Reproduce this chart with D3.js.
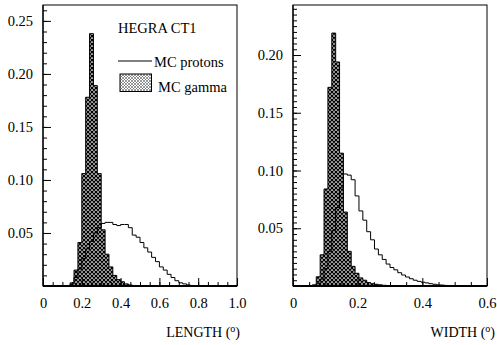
<!DOCTYPE html>
<html><head><meta charset="utf-8">
<script src="https://cdn.jsdelivr.net/npm/d3@7"></script>
<style>
body{margin:0;background:#fff}
svg{display:block}
text{font-family:"Liberation Serif","Times New Roman",Tinos,"DejaVu Serif",serif;fill:#000}
</style>
</head><body>
<svg id="c" width="497" height="345"></svg>
<script>
// ---- data ----
const lengthBins = [0.12,0.14,0.16,0.18,0.20,0.22,0.24,0.26,0.28,0.30,0.32,0.34,0.36,0.38,0.40,0.42,0.44,0.46,0.48,0.50,0.52,0.54,0.56,0.58,0.60,0.62,0.64,0.66,0.68,0.70,0.72,0.74,0.76,0.78];
const lengthGamma = [0,0.002,0.015,0.041,0.106,0.178,0.238,0.189,0.106,0.053,0.030,0.018,0.010,0.006,0.004,0.002,0.001,0.0005,0,0,0,0,0,0,0,0,0,0,0,0,0,0,0,0];
const lengthProtons = [0.0005,0.003,0.008,0.016,0.026,0.035,0.042,0.050,0.055,0.059,0.060,0.060,0.058,0.057,0.058,0.058,0.055,0.048,0.046,0.041,0.036,0.032,0.027,0.023,0.018,0.015,0.011,0.008,0.005,0.003,0.002,0.001,0.0005,0];
const lengthBinWidth = 0.02;

const widthBins = [0.048,0.060,0.072,0.084,0.096,0.108,0.120,0.132,0.144,0.156,0.168,0.180,0.192,0.204,0.216,0.228,0.240,0.252,0.264,0.276,0.288,0.300,0.312,0.324,0.336,0.348,0.360,0.372,0.384,0.396,0.408,0.420,0.432,0.444,0.456,0.468,0.480,0.492,0.504];
const widthGamma = [0,0.001,0.008,0.027,0.084,0.172,0.219,0.194,0.115,0.064,0.030,0.017,0.011,0.007,0.005,0.003,0.002,0.0015,0.001,0.0006,0.0003,0,0,0,0,0,0,0,0,0,0,0,0,0,0,0,0,0,0];
const widthProtons = [0,0.0005,0.002,0.006,0.015,0.030,0.048,0.068,0.085,0.097,0.096,0.092,0.078,0.065,0.057,0.047,0.040,0.032,0.027,0.023,0.019,0.016,0.014,0.0115,0.0095,0.0078,0.0063,0.005,0.004,0.0033,0.0027,0.002,0.0015,0.001,0.0008,0.0005,0.0003,0.0002,0];
const widthBinWidth = 0.012;

const lengthXTicks = [0,0.2,0.4,0.6,0.8,1.0];
const widthXTicks = [0,0.2,0.4,0.6];
const lengthYTicks = [0.05,0.10,0.15,0.20,0.25];
const widthYTicks = [0.05,0.10,0.15,0.20];
const legendTitle = "HEGRA CT1";
const seriesNames = ["MC protons","MC gamma"];

const FONT = '"Liberation Serif","Times New Roman",Tinos,"DejaVu Serif",serif';

// ---- drawing ----
const svg = d3.select("#c");
const defs = svg.append("defs");
const hp = defs.append("pattern").attr("id","hatch").attr("patternUnits","userSpaceOnUse")
  .attr("width",4).attr("height",4);
hp.append("path").attr("d","M0,0L4,4M4,0L0,4M-1,1L1,-1M3,5L5,3M-1,3L1,5M3,-1L5,1")
  .attr("stroke","#000").attr("stroke-width",1.35);
const lp = defs.append("pattern").attr("id","hatchLeg").attr("patternUnits","userSpaceOnUse")
  .attr("width",3).attr("height",3);
lp.append("path").attr("d","M0,0L3,3M3,0L0,3").attr("stroke","#555").attr("stroke-width",0.6);

function panel(cfg){
  const x = d3.scaleLinear().domain(cfg.xDomain).range([cfg.x0,cfg.x1]);
  const y = d3.scaleLinear().domain(cfg.yDomain).range([cfg.y1,cfg.y0]);
  const g = svg.append("g");

  function stepPts(bins, vals, bw){
    const pts = [[bins[0],0]];
    bins.forEach((b,i)=>{ pts.push([b,vals[i]]); pts.push([b+bw,vals[i]]); });
    pts.push([bins[bins.length-1]+bw,0]);
    return pts;
  }
  const line = d3.line().x(d=>x(d[0])).y(d=>y(d[1]));

  g.append("path").attr("d", line(stepPts(cfg.bins,cfg.gamma,cfg.bw)))
    .attr("fill","url(#hatch)").attr("stroke","#000").attr("stroke-width",1);
  g.append("path").attr("d", line(stepPts(cfg.bins,cfg.protons,cfg.bw)))
    .attr("fill","none").attr("stroke","#000").attr("stroke-width",1);

  // frame
  g.append("rect").attr("x",cfg.x0).attr("y",cfg.y0).attr("width",cfg.x1-cfg.x0).attr("height",cfg.y1-cfg.y0)
    .attr("fill","none").attr("stroke","#000").attr("stroke-width",1);

  // minor ticks
  const ym = g.append("g").attr("transform",`translate(${cfg.x0},0)`)
    .call(d3.axisLeft(y).tickValues(cfg.yMinor).tickSizeInner(-4).tickSizeOuter(0).tickFormat(""));
  ym.select(".domain").remove();
  const xm = g.append("g").attr("transform",`translate(0,${cfg.y1})`)
    .call(d3.axisBottom(x).tickValues(cfg.xMinor).tickSizeInner(-4).tickSizeOuter(0).tickFormat(""));
  xm.select(".domain").remove();

  // major ticks + labels
  const ya = g.append("g").attr("transform",`translate(${cfg.x0},0)`)
    .call(d3.axisLeft(y).tickValues(cfg.yTicks).tickSizeInner(-8).tickSizeOuter(0).tickPadding(10)
      .tickFormat(d3.format(".2f")));
  ya.select(".domain").remove();
  const xa = g.append("g").attr("transform",`translate(0,${cfg.y1})`)
    .call(d3.axisBottom(x).tickValues(cfg.xTicks).tickSizeInner(-8).tickSizeOuter(0).tickPadding(12)
      .tickFormat(d=> d===0 ? "0" : d3.format(".1f")(d)));
  xa.select(".domain").remove();
  [ym,xm,ya,xa].forEach(a=>{
    a.attr("font-family",FONT).attr("font-size",14);
    a.selectAll("text").attr("font-family",FONT).style("font-family",FONT).style("font-size","14.5px").attr("fill","#000");
    a.selectAll("line").attr("stroke","#000").attr("stroke-width",1);
  });

  // axis lines
  g.append("line").attr("x1",cfg.x0).attr("x2",cfg.x0).attr("y1",cfg.y0).attr("y2",cfg.y1)
    .attr("stroke","#000").attr("stroke-width",1.2);
  g.append("line").attr("x1",cfg.x0).attr("x2",cfg.x1).attr("y1",cfg.y1).attr("y2",cfg.y1)
    .attr("stroke","#000").attr("stroke-width",2);

  // axis title
  const t = svg.append("text").attr("x",cfg.titleX).attr("y",337).attr("text-anchor","end")
    .style("font-family",FONT).style("font-size","14px");
  t.append("tspan").text(cfg.title + " (");
  t.append("tspan").attr("dy",-5).style("font-size","10px").text("o");
  t.append("tspan").attr("dy",5).text(")");
  return {x,y};
}

panel({x0:43,x1:237,y0:5,y1:286,xDomain:[0,1],yDomain:[0,0.265],
  bins:lengthBins,gamma:lengthGamma,protons:lengthProtons,bw:lengthBinWidth,
  xTicks:lengthXTicks,yTicks:lengthYTicks,
  xMinor:d3.range(0.05,1.0,0.05),yMinor:d3.range(0.01,0.265,0.01),
  title:"LENGTH",titleX:240});
panel({x0:293,x1:487,y0:5,y1:286,xDomain:[0,0.6],yDomain:[0,0.2433],
  bins:widthBins,gamma:widthGamma,protons:widthProtons,bw:widthBinWidth,
  xTicks:widthXTicks,yTicks:widthYTicks,
  xMinor:d3.range(0.05,0.6,0.05),yMinor:d3.range(0.005,0.243,0.005),
  title:"WIDTH",titleX:495});

// legend
const leg = svg.append("g").style("font-family",FONT).style("font-size","14.5px");
leg.append("text").attr("x",118).attr("y",33).text(legendTitle);
leg.append("line").attr("x1",118).attr("x2",152).attr("y1",61).attr("y2",61).attr("stroke","#000").attr("stroke-width",1);
leg.append("text").attr("x",154).attr("y",67).text(seriesNames[0]);
leg.append("rect").attr("x",120).attr("y",74).attr("width",31.5).attr("height",17.5)
  .attr("fill","url(#hatchLeg)").attr("stroke","#000").attr("stroke-width",1);
leg.append("text").attr("x",158).attr("y",92).text(seriesNames[1]);
</script>
</body></html>
